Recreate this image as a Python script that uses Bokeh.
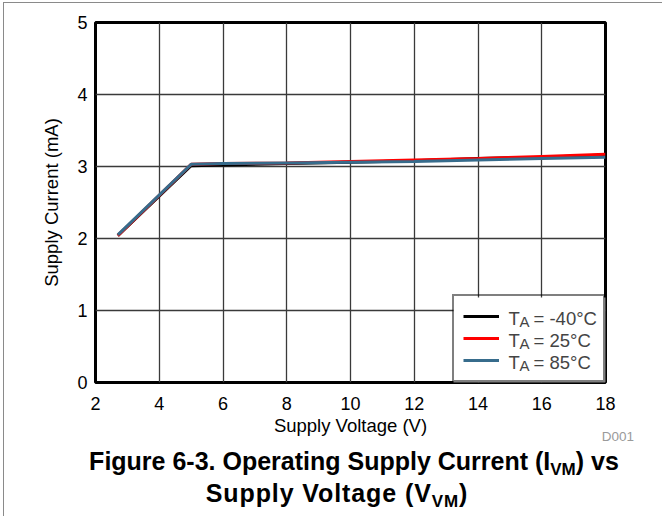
from bokeh.plotting import figure
from bokeh.models import (Range1d, FixedTicker, Legend, LegendItem, Label, Div,
                          BoxAnnotation)
from bokeh.layouts import column
from bokeh.embed import file_html
from bokeh.resources import INLINE

# ---------------- data ----------------
supply_voltage = [2.7, 5, 6, 8, 10, 12, 14, 16, 18]
current_m40 = [2.04, 3.01, 3.02, 3.04, 3.06, 3.08, 3.11, 3.13, 3.16]
current_25 = [2.04, 3.03, 3.04, 3.05, 3.07, 3.09, 3.11, 3.14, 3.17]
current_85 = [2.05, 3.03, 3.04, 3.05, 3.06, 3.07, 3.09, 3.11, 3.13]
series_temps = ["-40°C", "25°C", "85°C"]
series_colors = ["#000000", "#ff0000", "#376c8c"]
x_ticks = [2, 4, 6, 8, 10, 12, 14, 16, 18]
y_ticks = [0, 1, 2, 3, 4, 5]

FONT = "Liberation Sans"

# ---------------- geometry (page pixels) ----------------
ORG_X, ORG_Y = 4, 3          # content origin on page (margin 3/2 + 1px border)
FR_L, FR_T, FR_W, FR_H = 95, 22, 510, 360
W = 650
BOT = 60
HF = (FR_T - ORG_Y) + FR_H + BOT
X0, X1, Y0, Y1 = 2, 18, 0, 5


def px2x(px):
    return X0 + (px - FR_L) * (X1 - X0) / FR_W


def py2y(py):
    return Y0 + (FR_T + FR_H - py) * (Y1 - Y0) / FR_H


p = figure(width=W, height=HF, output_backend="svg", toolbar_location=None,
           x_range=Range1d(X0, X1), y_range=Range1d(Y0, Y1),
           min_border_left=FR_L - ORG_X, min_border_top=FR_T - ORG_Y,
           min_border_right=W - (FR_L - ORG_X) - FR_W,
           min_border_bottom=BOT)
p.background_fill_color = "white"
p.border_fill_color = "white"
p.outline_line_color = "black"
p.outline_line_width = 3

for ax in (p.xaxis, p.yaxis):
    ax.axis_line_color = None
    ax.major_tick_line_color = None
    ax.minor_tick_line_color = None
    ax.major_tick_out = 0
    ax.major_tick_in = 0
    ax.major_label_text_font = FONT
    ax.major_label_text_font_size = "18px"
    ax.major_label_text_color = "black"
    ax.axis_label_text_font = FONT
    ax.axis_label_text_font_size = "18.5px"
    ax.axis_label_text_font_style = "normal"
    ax.axis_label_text_color = "black"

p.xaxis.ticker = FixedTicker(ticks=x_ticks)
p.yaxis.ticker = FixedTicker(ticks=y_ticks)
p.xaxis.axis_label = "Supply Voltage (V)"
p.yaxis.axis_label = "Supply Current (mA)"
p.xaxis.major_label_standoff = 14
p.xaxis.axis_label_standoff = 2
p.yaxis.major_label_standoff = 8
p.yaxis.axis_label_standoff = 12

p.grid.grid_line_color = "#3a3a3a"
p.grid.grid_line_width = 1.3

renderers = []
for ys, col in zip([current_m40, current_25, current_85], series_colors):
    r = p.line(supply_voltage, ys, line_color=col, line_width=3)
    renderers.append(r)

# legend geometry
PAD, GW, GH, STAND, LW, SP = 9, 36, 22, 10, 85, -1
IH = 23                       # measured item height
leg_h = 2 * PAD + 3 * IH + 2 * SP
leg_w = 2 * PAD + GW + STAND + LW + 3
leg_left = FR_L + FR_W - leg_w
leg_top = FR_T + FR_H - leg_h

# white patch under the (transparent) legend hides the grid there
p.add_layout(BoxAnnotation(left=px2x(leg_left), right=X1, bottom=Y0, top=py2y(leg_top),
                           fill_color="white", fill_alpha=1, line_color=None,
                           level="glyph"))

legend = Legend(items=[LegendItem(label=" ", renderers=[r]) for r in renderers],
                location="bottom_right", margin=0, padding=PAD, spacing=SP,
                glyph_width=GW, glyph_height=GH, label_height=GH,
                label_width=LW, label_standoff=STAND,
                border_line_color="black", border_line_width=2,
                background_fill_alpha=0,
                label_text_font=FONT, label_text_font_size="18px",
                label_text_color="black")
p.add_layout(legend)

# legend texts: T with subscript A
label_x = leg_left + PAD + GW + STAND
for i, t in enumerate(series_temps):
    cy = leg_top + PAD + (IH + SP) * i + IH / 2
    p.add_layout(Label(x=px2x(label_x), y=py2y(cy + 0.5), text="T", level="overlay",
                       text_font=FONT, text_font_size="18.5px",
                       text_baseline="alphabetic", text_align="left"))
    p.add_layout(Label(x=px2x(label_x + 11), y=py2y(cy + 3.5), text="A", level="overlay",
                       text_font=FONT, text_font_size="15px",
                       text_baseline="alphabetic", text_align="left"))
    p.add_layout(Label(x=px2x(label_x + 25), y=py2y(cy + 0.5), text="= " + t, level="overlay",
                       text_font=FONT, text_font_size="18.5px",
                       text_baseline="alphabetic", text_align="left"))

# caption below the figure (HTML, with subscripts)
DX, DY = -4, -5               # measured offset of the Div content
DIV_Y = ORG_Y + HF
DIV_H = 66
d001_top = 441 - 11.4 - DIV_Y + DY
l1_top = 470 - 21.2 - DIV_Y + DY
l2_top = 502 - 21.2 - DIV_Y + DY
font_css = "font-family:'Liberation Sans',Arial,sans-serif;"
caption_html = (
    f'<div style="position:relative;width:{W}px;height:{DIV_H}px;{font_css}color:#000;">'
    f'<div style="position:absolute;right:{W - (633 - ORG_X) - DX}px;top:{d001_top:.1f}px;'
    f'font-size:13.5px;line-height:13.5px;color:#9a9a9a;white-space:nowrap;">D001</div>'
    f'<div style="position:absolute;left:{353 - 300 - ORG_X + DX}px;width:600px;top:{l1_top:.1f}px;'
    f'text-align:center;font-size:25px;line-height:25px;font-weight:bold;white-space:nowrap;">'
    f'Figure 6-3. Operating Supply Current (I<span style="font-size:17px;position:relative;top:5px;">VM</span>) vs</div>'
    f'<div style="position:absolute;left:{336 - 300 - ORG_X + DX}px;width:600px;top:{l2_top:.1f}px;'
    f'text-align:center;font-size:25px;line-height:25px;font-weight:bold;letter-spacing:0.9px;white-space:nowrap;">'
    f'Supply Voltage (V<span style="font-size:17px;position:relative;top:5px;">VM</span>)</div>'
    f'</div>'
)
caption = Div(text=caption_html, width=W, height=DIV_H)

layout = column(p, caption, spacing=0,
                styles={"margin-left": "3px", "margin-top": "2px",
                        "border-left": "1px solid #8a8a8a",
                        "border-top": "1px solid #8a8a8a"})

open("out.html", "w").write(file_html(layout, INLINE))
